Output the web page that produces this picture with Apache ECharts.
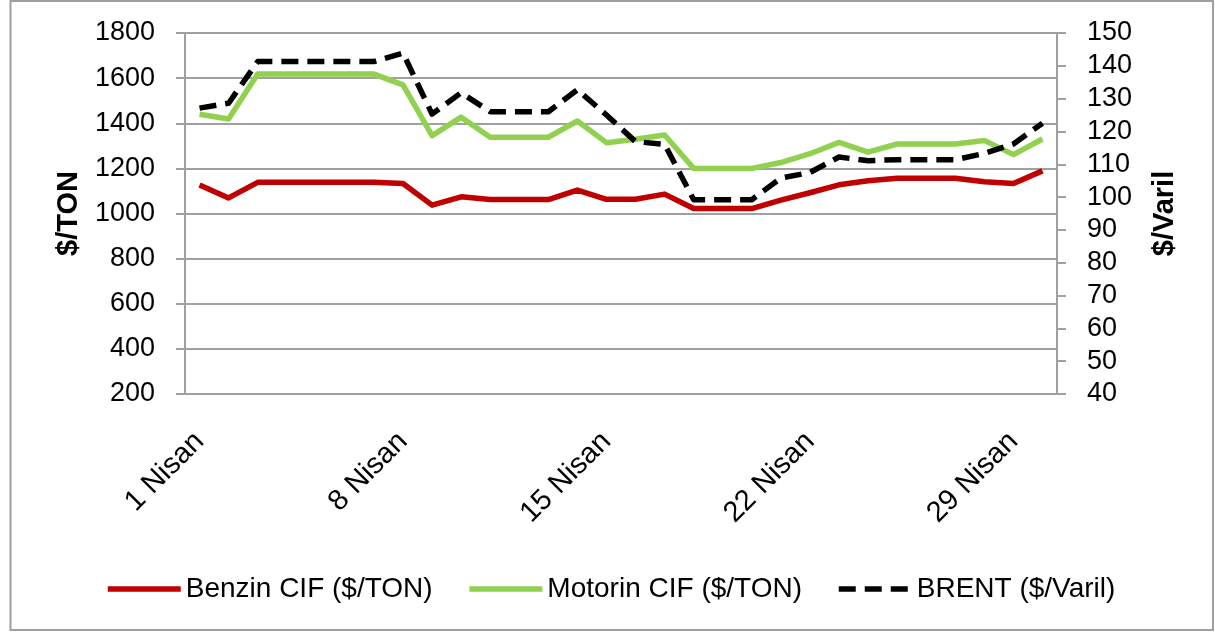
<!DOCTYPE html>
<html>
<head>
<meta charset="utf-8">
<title>Benzin / Motorin / Brent</title>
<script src="https://cdn.jsdelivr.net/npm/echarts@6/dist/echarts.min.js"></script>
<style>
html,body{margin:0;padding:0;background:#fff;}
#chart{width:1215px;height:632px;}
</style>
</head>
<body>
<div id="chart"></div>
<script>
// gunler
var days=["1 Nisan","2 Nisan","3 Nisan","4 Nisan","5 Nisan","6 Nisan","7 Nisan","8 Nisan","9 Nisan","10 Nisan",
  "11 Nisan","12 Nisan","13 Nisan","14 Nisan","15 Nisan","16 Nisan","17 Nisan","18 Nisan","19 Nisan","20 Nisan",
  "21 Nisan","22 Nisan","23 Nisan","24 Nisan","25 Nisan","26 Nisan","27 Nisan","28 Nisan","29 Nisan","30 Nisan"];
// $/TON
var benzin=[1126,1069,1138,1138,1138,1138,1138,1133,1037,1074,1062,1062,1062,1104,1063,
  1063,1086,1022,1022,1022,1059,1092,1127,1145,1156,1156,1156,1141,1133,1189];
var motorin=[1440,1419,1618,1618,1618,1618,1618,1570,1345,1427,1338,1338,1338,1410,1314,
  1329,1348,1200,1200,1200,1226,1265,1315,1272,1308,1308,1308,1324,1261,1330];
// $/Varil
var brent=[127.1,128.6,141.3,141.3,141.3,141.3,141.3,143.9,125.3,131.8,126,126,126,132.7,125,
  116.9,116.1,99.2,99.2,99.2,105.8,107.5,112.2,111.1,111.4,111.4,111.4,113.3,116.2,122.5];
var tonTicks={min:200,max:1800,step:200};
var varilTicks={min:40,max:150,step:10};

var font="'Liberation Sans', Arial, sans-serif";
var gray="#a0a0a0";

var chart=echarts.init(document.getElementById("chart"));
chart.setOption({
  animation:false,
  textStyle:{fontFamily:font},
  graphic:[{
    type:"rect",
    shape:{x:10.5,y:1,width:1202.5,height:629},
    style:{fill:"none",stroke:gray,lineWidth:2}
  }],
  grid:{left:185,right:158,top:33,bottom:238},
  legend:{
    left:105,
    top:575,
    padding:0,
    itemWidth:73,
    itemHeight:14,
    itemGap:34,
    itemStyle:{opacity:0},
    lineStyle:{width:5.5},
    textStyle:{fontFamily:font,fontSize:28,color:"#000"},
    data:["Benzin CIF ($/TON)","Motorin CIF ($/TON)","BRENT ($/Varil)"]
  },
  xAxis:{
    type:"category",
    data:days,
    boundaryGap:true,
    axisLine:{lineStyle:{color:gray,width:2}},
    axisTick:{interval:6,length:10,lineStyle:{color:gray,width:2}},
    axisLabel:{interval:6,rotate:45,margin:43,fontSize:29,color:"#000",fontFamily:font},
    splitLine:{show:false}
  },
  yAxis:[
    {
      type:"value",
      position:"left",
      min:tonTicks.min,
      max:tonTicks.max,
      interval:tonTicks.step,
      name:"$/TON",
      nameLocation:"middle",
      nameRotate:90,
      nameGap:102,
      nameTextStyle:{fontSize:29,fontWeight:"bold",color:"#000",fontFamily:font},
      axisLine:{show:true,lineStyle:{color:gray,width:2}},
      axisTick:{show:true,length:9,lineStyle:{color:gray,width:2}},
      axisLabel:{margin:30,fontSize:27,color:"#000",fontFamily:font,formatter:function(v){return String(v);}},
      splitLine:{show:true,lineStyle:{color:gray,width:2}}
    },
    {
      type:"value",
      position:"right",
      min:varilTicks.min,
      max:varilTicks.max,
      interval:varilTicks.step,
      name:"$/Varil",
      nameLocation:"middle",
      nameRotate:90,
      nameGap:93,
      nameTextStyle:{fontSize:29,fontWeight:"bold",color:"#000",fontFamily:font},
      axisLine:{show:true,lineStyle:{color:gray,width:2}},
      axisTick:{show:true,length:9,lineStyle:{color:gray,width:2}},
      axisLabel:{margin:30,fontSize:27,color:"#000",fontFamily:font,formatter:function(v){return String(v);}},
      splitLine:{show:false}
    }
  ],
  series:[
    {
      name:"Benzin CIF ($/TON)",
      type:"line",
      data:benzin,
      symbol:"none",
      color:"#c00000",
      lineStyle:{width:5.5,color:"#c00000",join:"round"}
    },
    {
      name:"Motorin CIF ($/TON)",
      type:"line",
      data:motorin,
      symbol:"none",
      color:"#92d050",
      lineStyle:{width:5.5,color:"#92d050",join:"round"}
    },
    {
      name:"BRENT ($/Varil)",
      type:"line",
      yAxisIndex:1,
      data:brent,
      symbol:"none",
      color:"#000000",
      lineStyle:{width:5.5,color:"#000000",type:[17,9],join:"round"}
    }
  ]
});
</script>
</body>
</html>
